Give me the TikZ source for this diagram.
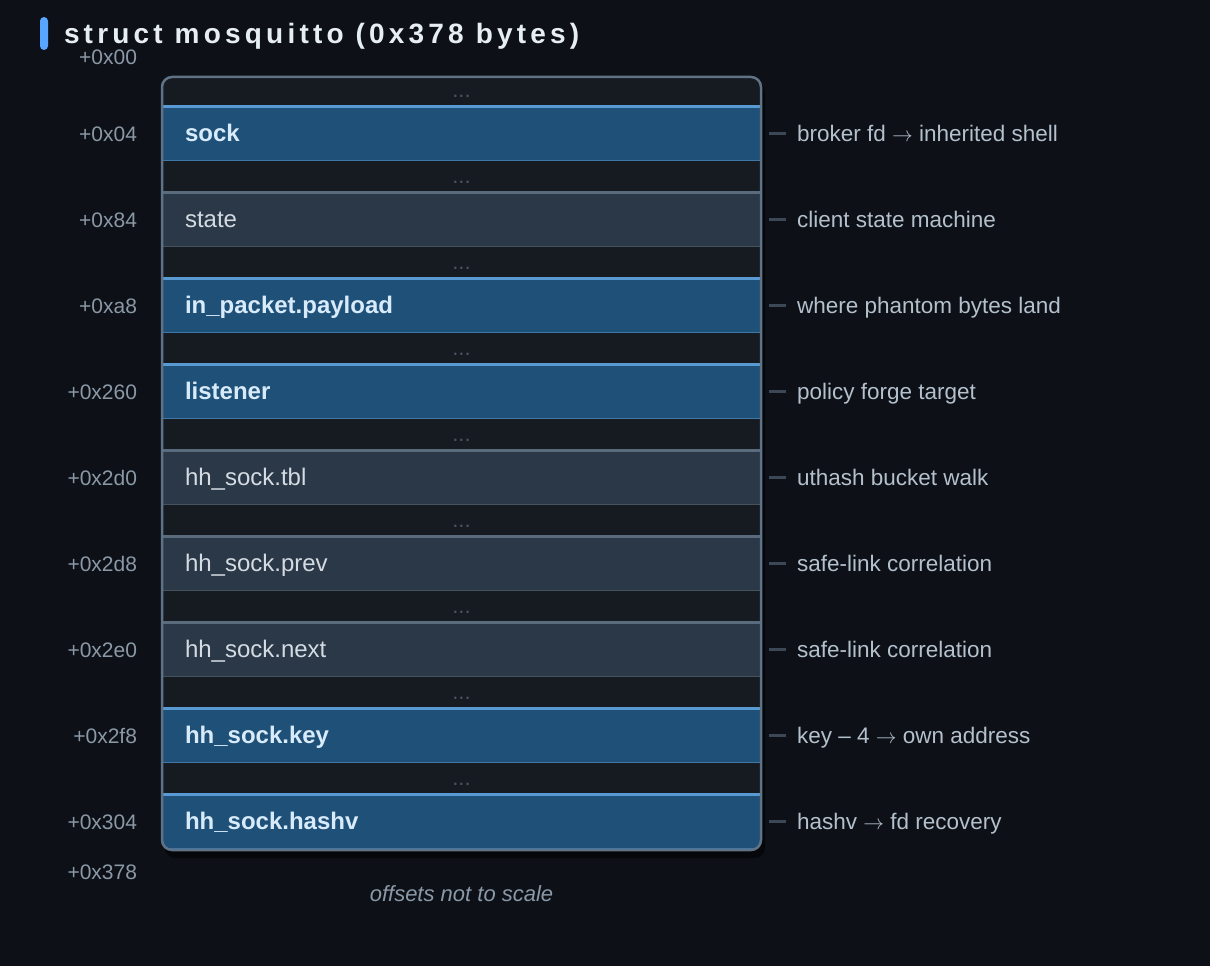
\documentclass[tikz,border=0pt]{standalone}
\usepackage{fontspec}
\setmainfont{Liberation Sans}
\newcommand{\rarr}{$\rightarrow$}
\usetikzlibrary{calc}
\definecolor{bg}{HTML}{0D1117}
\definecolor{gapfill}{HTML}{161B22}
\definecolor{hifill}{HTML}{1F5078}
\definecolor{hiline}{HTML}{5A9AD2}
\definecolor{hibot}{HTML}{3F78A8}
\definecolor{hitext}{HTML}{D8EBFA}
\definecolor{plfill}{HTML}{2A3847}
\definecolor{plline}{HTML}{5B6B7E}
\definecolor{plbot}{HTML}{45535F}
\definecolor{pltext}{HTML}{D4DBE2}
\definecolor{boxline}{HTML}{5F7286}
\definecolor{offtext}{HTML}{8B98A6}
\definecolor{anntext}{HTML}{B4C0CC}
\definecolor{dashcol}{HTML}{3D4856}
\definecolor{dotcol}{HTML}{4A5362}
\definecolor{accent}{HTML}{58A6FF}
\definecolor{titletext}{HTML}{E6EDF3}
\definecolor{foottext}{HTML}{8A98A8}
\begin{document}
\begin{tikzpicture}[x=1pt,y=-1pt,
  every node/.style={inner sep=0pt, outer sep=0pt},
  fieldbox/.style={minimum width=597pt, minimum height=56pt, text width=553pt, inner xsep=22pt, align=left, text height=20pt, text depth=4pt},
  hirow/.style={fieldbox, fill=hifill, text=hitext, font=\fontsize{24}{28}\selectfont\bfseries},
  plainrow/.style={fieldbox, fill=plfill, text=pltext, font=\fontsize{24}{28}\selectfont},
  hirowtop/.style={line width=3pt, hiline},
  plainrowtop/.style={line width=3pt, plline},
  hirowbot/.style={line width=1.2pt, hibot},
  plainrowbot/.style={line width=1.2pt, plbot},
  annlabel/.style={anchor=west, text=anntext, font=\fontsize{22.5}{26}\selectfont, text height=18pt, text depth=3pt},
  offlabel/.style={anchor=east, text=offtext, font=\fontsize{21}{24}\selectfont, text height=17pt, text depth=3pt},
  dashc/.style={line width=3pt, dashcol},
  gapdots/.style={text=dotcol, font=\fontsize{22}{24}\selectfont},
  titlestyle/.style={anchor=west, text=titletext, font=\fontsize{28}{32}\selectfont\bfseries\addfontfeature{LetterSpace=15}},
  footstyle/.style={text=foottext, font=\fontsize{22}{26}\selectfont\itshape}
]
\fill[bg] (0,0) rectangle (1210,966);
\useasboundingbox (0,0) rectangle (1210,966);

% title
\node[fill=accent, rounded corners=4pt, minimum width=8pt, minimum height=33pt] (bar) at (44,33.5) {};
\node[titlestyle] (title) at (64,36) {struct mosquitto (0x378 bytes)};

% shadow and box background
\fill[black, opacity=0.55, rounded corners=10pt] (165,82) rectangle (765,858);
\fill[gapfill, rounded corners=10pt] (162,77) rectangle (761,850);

\begin{scope}
\clip[rounded corners=10pt] (162,77) rectangle (761,850);
\foreach \i/\lab/\sty in {0/sock/hirow, 1/state/plainrow, 2/in\_packet.payload/hirow, 3/listener/hirow, 4/hh\_sock.tbl/plainrow, 5/hh\_sock.prev/plainrow, 6/hh\_sock.next/plainrow, 7/hh\_sock.key/hirow, 8/hh\_sock.hashv/hirow}{
  \node[\sty] (f\i) at (461.5,{133+86*\i}) {\lab};
  \draw[\sty top] ([yshift=-1.5pt]f\i.north west) -- ([yshift=-1.5pt]f\i.north east);
  \draw[\sty bot] ([yshift=0.6pt]f\i.south west) -- ([yshift=0.6pt]f\i.south east);
  \node[gapdots] (d\i) at (461.5,{96+86*\i}) {...};
}
\end{scope}
\draw[boxline, line width=2.5pt, rounded corners=10pt] (162,77) rectangle (761,850);

% annotations and offsets
\foreach \i/\ann/\off in {0/broker fd \rarr{} inherited shell/+0x04, 1/client state machine/+0x84, 2/where phantom bytes land/+0xa8, 3/policy forge target/+0x260, 4/uthash bucket walk/+0x2d0, 5/safe-link correlation/+0x2d8, 6/safe-link correlation/+0x2e0, 7/key – 4 \rarr{} own address/+0x2f8, 8/hashv \rarr{} fd recovery/+0x304}{
  \node[annlabel] (a\i) at (797,{134+86*\i}) {\ann};
  \node[offlabel] (o\i) at (137,{134+86*\i}) {\off};
  \draw[dashc] ([xshift=9pt]f\i.east) -- ([xshift=-11pt]a\i.west |- f\i.east);
}
\node[offlabel] (ostart) at (137,57) {+0x00};
\node[offlabel] (oend) at (137,872) {+0x378};

\node[footstyle] (foot) at (461.5,894) {offsets not to scale};
\end{tikzpicture}
\end{document}
